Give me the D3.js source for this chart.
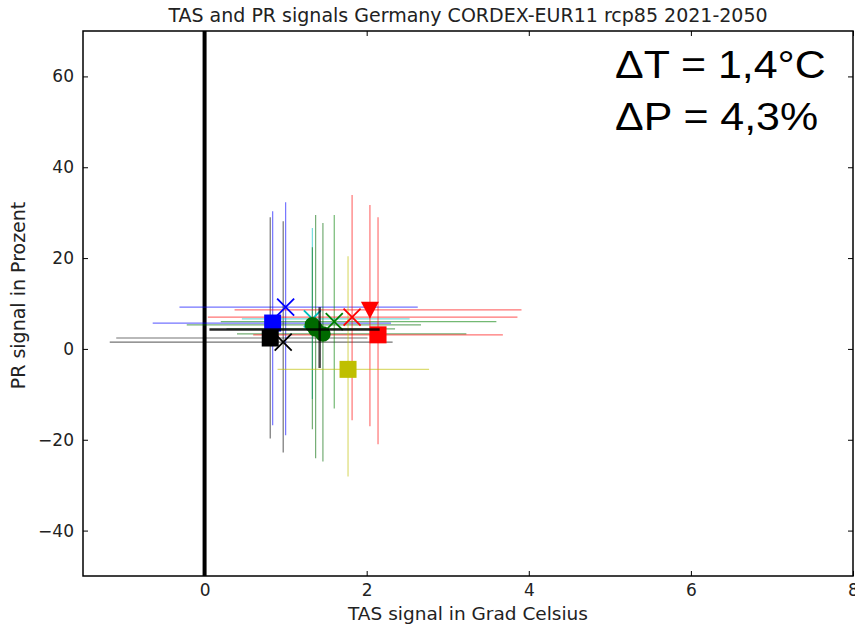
<!DOCTYPE html>
<html><head><meta charset="utf-8">
<script src="https://cdn.jsdelivr.net/npm/d3@7"></script>
<style>body{margin:0;background:#fff}svg{display:block}</style>
</head><body><svg id="c" width="855" height="626"></svg>
<script>
// ---- data ----
const xTicks = [0, 2, 4, 6, 8];
const yTicks = [-40, -20, 0, 20, 40, 60];
const markers = ["x","square","square","x","x","circle","circle","circle","x","x","triangle","square","square"];
const colors  = ["#0000ff","#0000ff","#000000","#000000","#00bfbf","#006a00","#006a00","#006a00","#008000","#ff0000","#ff0000","#ff0000","#bfbf00"];
const tas     = [1.00, 0.84, 0.81, 0.97, 1.33, 1.33, 1.37, 1.46, 1.60, 1.82, 2.04, 2.14, 1.77];
const pr      = [9.2, 5.7, 2.4, 1.5, 6.6, 5.3, 4.4, 3.3, 6.0, 7.0, 8.6, 3.1, -4.5];
const tasLo   = [-0.31, -0.64, -1.09, -1.17, 0.46, -0.22, 0.27, 0.40, 0.20, 0.04, 0.37, 0.60, 0.90];
const tasHi   = [2.63, 2.30, 2.01, 2.32, 2.53, 2.67, 2.35, 3.23, 3.60, 3.86, 3.91, 3.68, 2.77];
const prLo    = [-19.0, -16.8, -19.7, -22.8, -11.0, -17.7, -24.1, -24.8, -13.1, -15.7, -17.0, -21.0, -28.1];
const prHi    = [32.3, 30.3, 29.0, 28.1, 26.6, 22.4, 29.5, 27.7, 29.5, 33.9, 31.7, 29.0, 20.4];
const meanTas = 1.42, meanPr = 4.3;
const meanTasLo = 0.06, meanTasHi = 2.16, meanPrLo = -4.2, meanPrHi = 9.2;
const annot = ["ΔT = 1,4°C", "ΔP = 4,3%"];

// ---- layout ----
const L = 83, R = 853, T = 31, B = 576;
const svg = d3.select("#c");
const x = d3.scaleLinear().domain([-1.5, 8]).range([L, R]);
const y = d3.scaleLinear().domain([-50, 70]).range([B, T]);

svg.append("clipPath").attr("id","clip").append("rect")
  .attr("x", L).attr("y", T).attr("width", R - L).attr("height", B - T);
const g = svg.append("g").attr("clip-path","url(#clip)");

// zero line
g.append("line").attr("x1", x(0)).attr("x2", x(0)).attr("y1", T).attr("y2", B)
  .attr("stroke","#000").attr("stroke-width",4);

const idx = d3.range(tas.length);
// error bars
const eb = g.append("g").attr("stroke-width",1.2).attr("stroke-opacity",0.55);
idx.forEach(i => {
  eb.append("line").attr("x1", x(tasLo[i])).attr("x2", x(tasHi[i]))
    .attr("y1", y(pr[i])).attr("y2", y(pr[i])).attr("stroke", colors[i]);
  eb.append("line").attr("x1", x(tas[i])).attr("x2", x(tas[i]))
    .attr("y1", y(prLo[i])).attr("y2", y(prHi[i])).attr("stroke", colors[i]);
});
// markers
const sym = {square: d3.symbolSquare, circle: d3.symbolCircle};
idx.forEach(i => {
  const cx = x(tas[i]), cy = y(pr[i]);
  if (markers[i] === "x") {
    const s = 8.5;
    g.append("path").attr("d", `M${cx-s},${cy-s}L${cx+s},${cy+s}M${cx-s},${cy+s}L${cx+s},${cy-s}`)
      .attr("stroke", colors[i]).attr("stroke-width", 1.8).attr("fill","none");
  } else if (markers[i] === "triangle") {
    g.append("path").attr("d", `M${cx-9},${cy-8}L${cx+9},${cy-8}L${cx},${cy+9}Z`)
      .attr("fill", colors[i]);
  } else {
    const size = markers[i] === "square" ? 17*17 : Math.PI*7.8*7.8;
    g.append("path").attr("d", d3.symbol().type(sym[markers[i]]).size(size)())
      .attr("transform", `translate(${cx},${cy})`).attr("fill", colors[i]);
  }
});
// ensemble mean
g.append("line").attr("x1", x(meanTasLo)).attr("x2", x(meanTasHi))
  .attr("y1", y(meanPr)).attr("y2", y(meanPr)).attr("stroke","#000").attr("stroke-width",2.5).attr("stroke-opacity",0.85);
g.append("line").attr("x1", x(meanTas)).attr("x2", x(meanTas))
  .attr("y1", y(meanPrLo)).attr("y2", y(meanPrHi)).attr("stroke","#000").attr("stroke-width",2.5).attr("stroke-opacity",0.7);

// axes
const font = "'DejaVu Sans', sans-serif";
function styleAxis(sel){
  sel.select(".domain").remove();
  sel.selectAll(".tick line").attr("stroke","#000").attr("stroke-width",1);
  sel.selectAll(".tick text").attr("fill","#222").style("font-family",font).style("font-size","17px");
}
svg.append("g").attr("transform",`translate(0,${B})`)
  .call(d3.axisBottom(x).tickValues(xTicks).tickSize(-5).tickPadding(8).tickFormat(d3.format("d")))
  .call(styleAxis);
svg.append("g").attr("transform",`translate(0,${T})`)
  .call(d3.axisTop(x).tickValues(xTicks).tickSize(-5).tickFormat(""))
  .call(styleAxis);
svg.append("g").attr("transform",`translate(${L},0)`)
  .call(d3.axisLeft(y).tickValues(yTicks).tickSize(-5).tickPadding(9).tickFormat(d => d < 0 ? "\u2212" + Math.abs(d) : d))
  .call(styleAxis);
svg.append("g").attr("transform",`translate(${R},0)`)
  .call(d3.axisRight(y).tickValues(yTicks).tickSize(-5).tickFormat(""))
  .call(styleAxis);

svg.append("rect").attr("x", L).attr("y", T).attr("width", R - L).attr("height", B - T)
  .attr("fill","none").attr("stroke","#000").attr("stroke-width",1.5);

// titles
svg.append("text").attr("x", (L+R)/2).attr("y", 22).attr("text-anchor","middle")
  .style("font-family",font).style("font-size","19px").attr("fill","#222")
  .text("TAS and PR signals Germany CORDEX-EUR11 rcp85 2021-2050");
svg.append("text").attr("x", (L+R)/2).attr("y", 620).attr("text-anchor","middle")
  .style("font-family",font).style("font-size","18.5px").attr("fill","#222")
  .text("TAS signal in Grad Celsius");
svg.append("text").attr("transform",`translate(25,${(T+B)/2 - 8}) rotate(-90)`).attr("text-anchor","middle")
  .style("font-family",font).style("font-size","19px").attr("fill","#222")
  .text("PR signal in Prozent");

// annotation
annot.forEach((t, i) => {
  svg.append("text").attr("transform", `translate(615,${78 + i*52}) scale(1.1,1)`)
    .style("font-family","'Liberation Sans', Arial, sans-serif").style("font-size","39px").attr("fill","#000")
    .text(t);
});
</script></body></html>
